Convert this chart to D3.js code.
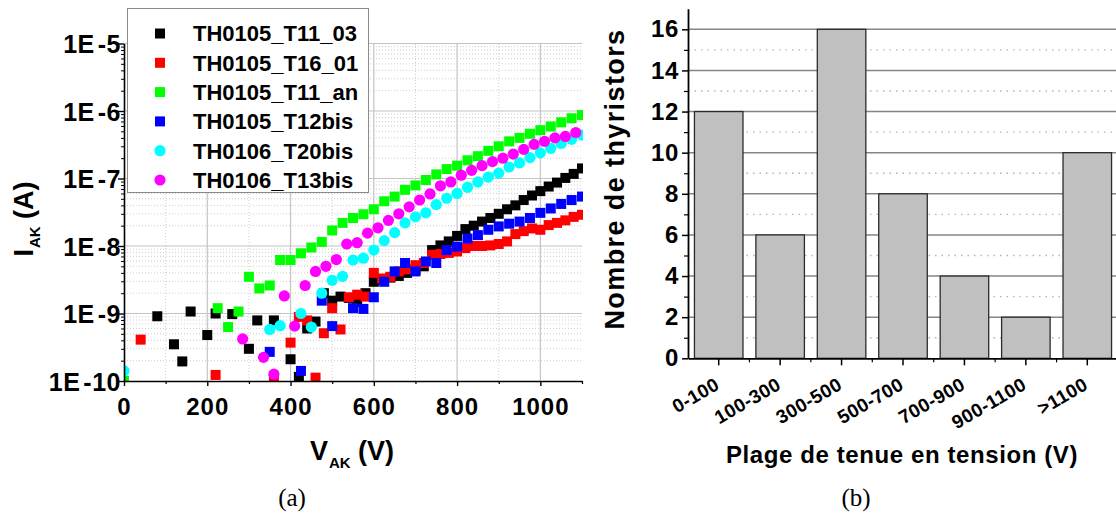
<!DOCTYPE html>
<html><head><meta charset="utf-8">
<script src="https://cdn.jsdelivr.net/npm/d3@7"></script>
<style>
html,body{margin:0;padding:0;background:#fff;}
svg{display:block;font-family:"Liberation Sans",Arial,sans-serif;}
</style></head>
<body>
<svg id="fig" width="1116" height="516"></svg>
<script>
// ---------- DATA (panel a) ----------
const seriesNames = ["TH0105_T11_03","TH0105_T16_01","TH0105_T11_an","TH0105_T12bis","TH0106_T20bis","TH0106_T13bis"];
const seriesColors = ["#000000","#ff0000","#00ff00","#0000ff","#00ffff","#ff00ff"];
const seriesShapes = ["square","square","square","square","circle","circle"];

const vBlack = [80,120,140,160,200,220,260,300,320,360,400,420,440,460,480,500,520,540,560,580,600,620,640,660,680,700,720,740,760,780,800,820,840,860,880,900,920,940,960,980,1000,1020,1040,1060,1080,1100];
const iBlack = [9.1e-10,3.5e-10,1.95e-10,1.07e-9,4.8e-10,1.0e-9,9.8e-10,3.0e-10,7.9e-10,7.9e-10,2.1e-10,1.15e-10,6.0e-10,7.6e-10,2.0e-9,1.55e-9,1.78e-9,1.7e-9,1.48e-9,2.0e-9,2.95e-9,3.16e-9,3.4e-9,3.6e-9,4.0e-9,4.4e-9,5.0e-9,8.7e-9,1.02e-8,1.17e-8,1.41e-8,1.78e-8,2.0e-8,2.3e-8,2.6e-8,3.0e-8,3.5e-8,4.0e-8,4.8e-8,5.6e-8,6.5e-8,7.6e-8,8.7e-8,1.02e-7,1.17e-7,1.41e-7];

const vRed = [40,220,360,400,420,440,460,480,500,520,540,560,580,600,620,640,660,680,700,720,740,760,780,800,820,840,860,880,900,920,940,960,980,1000,1020,1040,1060,1080,1100];
const iRed = [4.1e-10,1.23e-10,1.07e-10,3.7e-10,8.9e-10,7.9e-10,1.12e-10,5.1e-10,1.2e-9,5.8e-10,1.74e-9,1.9e-9,1.78e-9,4.0e-9,3.3e-9,3.5e-9,4.2e-9,4.5e-9,5.2e-9,5.6e-9,7.4e-9,7.6e-9,7.9e-9,8.3e-9,9.3e-9,1.0e-8,1.0e-8,1.02e-8,1.07e-8,1.17e-8,1.5e-8,1.66e-8,1.82e-8,1.74e-8,2.04e-8,2.2e-8,2.4e-8,2.7e-8,2.9e-8];

const vGreen = [0,225,250,275,300,325,350,375,400,425,450,475,500,525,550,575,600,625,650,675,700,725,750,775,800,825,850,875,900,925,950,975,1000,1025,1050,1075,1100];
const iGreen = [1.0e-10,1.2e-9,6.3e-10,1.07e-9,3.5e-9,2.35e-9,2.6e-9,6.2e-9,6.2e-9,7.8e-9,9.5e-9,1.15e-8,1.7e-8,2.2e-8,2.6e-8,2.95e-8,3.5e-8,4.6e-8,5.4e-8,6.8e-8,7.9e-8,9.5e-8,1.15e-7,1.38e-7,1.55e-7,1.86e-7,2.14e-7,2.57e-7,3.0e-7,3.55e-7,4.0e-7,4.6e-7,5.2e-7,5.9e-7,6.8e-7,7.8e-7,8.7e-7];

const vBlue = [350,425,475,500,550,575,600,625,650,675,700,725,750,775,800,825,850,875,900,925,950,975,1000,1025,1050,1075,1100];
const iBlue = [2.7e-10,1.41e-10,1.55e-9,6.5e-10,1.2e-9,1.17e-9,1.74e-9,2.95e-9,4.2e-9,5.6e-9,4.2e-9,5.9e-9,5.6e-9,8.7e-9,9.8e-9,1.29e-8,1.45e-8,1.74e-8,1.95e-8,2.14e-8,2.3e-8,2.6e-8,3.1e-8,3.6e-8,4.2e-8,4.8e-8,5.4e-8];

const vCyan = [0,350,375,425,450,475,500,525,550,575,600,625,650,675,700,725,750,775,800,825,850,875,900,925,950,975,1000,1025,1050,1075,1100];
const iCyan = [1.41e-10,5.8e-10,6.6e-10,1.0e-9,6.3e-10,2.0e-9,3.1e-9,3.55e-9,6.2e-9,6.6e-9,8.7e-9,1.2e-8,1.58e-8,2.2e-8,2.7e-8,3.1e-8,4.1e-8,5.1e-8,6.0e-8,7.4e-8,8.9e-8,1.05e-7,1.2e-7,1.48e-7,1.7e-7,2.04e-7,2.4e-7,2.8e-7,3.3e-7,3.8e-7,4.4e-7];

const vMagenta = [285,335,360,385,410,435,460,485,510,535,560,585,610,635,660,685,710,735,760,785,810,835,860,885,910,935,960,985,1010,1035,1060,1085];
const iMagenta = [4.2e-10,2.24e-10,1.26e-10,1.82e-9,6.5e-10,2.6e-9,4.2e-9,5.0e-9,6.3e-9,1.07e-8,1.12e-8,1.55e-8,1.86e-8,2.4e-8,3.0e-8,3.8e-8,4.8e-8,5.9e-8,7.8e-8,8.9e-8,1.12e-7,1.32e-7,1.55e-7,1.78e-7,2.0e-7,2.3e-7,2.7e-7,3.2e-7,3.55e-7,4.0e-7,4.2e-7,4.8e-7];

const seriesV = [vBlack,vRed,vGreen,vBlue,vCyan,vMagenta];
const seriesI = [iBlack,iRed,iGreen,iBlue,iCyan,iMagenta];

const xTicksA = [0,200,400,600,800,1000];
const xMinorA = [100,300,500,700,900,1100];
const yTicksA = [1e-10,1e-9,1e-8,1e-7,1e-6,1e-5];
const yTickLabelsA = ["1E-10","1E-9","1E-8","1E-7","1E-6","1E-5"];

// ---------- DATA (panel b) ----------
const categories = ["0-100","100-300","300-500","500-700","700-900","900-1100",">1100"];
const counts = [12,6,16,8,4,2,10];
const yTicksB = [0,2,4,6,8,10,12,14,16];
const yMinorB = [1,3,5,7,9,11,13,15];

// ---------- DRAW ----------
const FONT = "Liberation Sans, Arial, sans-serif";
const svg = d3.select("#fig");
svg.append("rect").attr("width",1116).attr("height",516).attr("fill","#fff");

// ===== Panel (a) =====
const xA = d3.scaleLinear().domain([0,1100]).range([124,582]);
const yA = d3.scaleLog().domain([1e-10,1e-5]).range([381,43.5]);
const gA = svg.append("g");

const yMinorA = [];
for (let e=-10;e<-5;e++) for (let k=2;k<=9;k++) yMinorA.push(k*Math.pow(10,e));

const grid = gA.append("g");
grid.selectAll(".hmin").data(yMinorA).join("line")
  .attr("x1",xA(0)).attr("x2",xA(1100)).attr("y1",d=>yA(d)).attr("y2",d=>yA(d))
  .attr("stroke","#cfcfcf").attr("stroke-width",1).attr("stroke-dasharray","1,2");
grid.selectAll(".vmin").data(xMinorA.filter(d=>d<1100)).join("line")
  .attr("x1",d=>xA(d)).attr("x2",d=>xA(d)).attr("y1",yA(1e-10)).attr("y2",yA(1e-5))
  .attr("stroke","#cfcfcf").attr("stroke-width",1).attr("stroke-dasharray","1,2");
grid.selectAll(".hmaj").data(yTicksA.slice(1)).join("line")
  .attr("x1",xA(0)).attr("x2",xA(1100)).attr("y1",d=>yA(d)).attr("y2",d=>yA(d))
  .attr("stroke","#c4c4c4").attr("stroke-width",1.2);
grid.selectAll(".vmaj").data(xTicksA.slice(1)).join("line")
  .attr("x1",d=>xA(d)).attr("x2",d=>xA(d)).attr("y1",yA(1e-10)).attr("y2",yA(1e-5))
  .attr("stroke","#c4c4c4").attr("stroke-width",1.2);

svg.append("clipPath").attr("id","clipA").append("rect")
  .attr("x",xA(0)).attr("y",yA(1e-5)-6).attr("width",xA(1100)-xA(0)+1).attr("height",yA(1e-10)-yA(1e-5)+6);

const pts = gA.append("g").attr("clip-path","url(#clipA)");
seriesNames.forEach((name,si)=>{
  const data = seriesV[si].map((v,i)=>({v, c: seriesI[si][i]}));
  const g = pts.append("g");
  if (seriesShapes[si]==="square") {
    g.selectAll("rect").data(data).join("rect")
      .attr("x",d=>xA(d.v)-5).attr("y",d=>yA(d.c)-5).attr("width",10).attr("height",10)
      .attr("fill",seriesColors[si]);
  } else {
    g.selectAll("circle").data(data).join("circle")
      .attr("cx",d=>xA(d.v)).attr("cy",d=>yA(d.c)).attr("r",5.6)
      .attr("fill",seriesColors[si]);
  }
});

const axA = gA.append("g").attr("transform",`translate(0,${yA(1e-10)})`)
  .call(d3.axisBottom(xA).tickValues(xTicksA).tickSize(5).tickSizeOuter(0).tickFormat(d3.format("d")));
axA.select(".domain").attr("stroke-width",1.6);
axA.selectAll(".tick line").attr("stroke-width",1.4);
axA.selectAll("text").attr("dy",null).attr("y",34).attr("font-size",24).attr("font-weight","bold")
  .attr("letter-spacing",1).attr("fill","#000").attr("font-family",FONT);
const axAmin = gA.append("g").attr("transform",`translate(0,${yA(1e-10)})`)
  .call(d3.axisBottom(xA).tickValues(xMinorA).tickSize(3).tickSizeOuter(0).tickFormat(""));
axAmin.select(".domain").remove();
axAmin.selectAll(".tick line").attr("stroke-width",1.2);

const ayA = gA.append("g").attr("transform",`translate(${xA(0)},0)`)
  .call(d3.axisLeft(yA).tickValues(yTicksA).tickSize(6).tickSizeOuter(0).tickFormat(""));
ayA.select(".domain").attr("stroke-width",1.6);
ayA.selectAll(".tick line").attr("stroke-width",1.4);
ayA.selectAll(".tick").each(function(d,i){
  const lab = yTickLabelsA[i];
  const t = d3.select(this).append("text").attr("x",-3).attr("dy","0.36em")
    .attr("text-anchor","end").attr("font-size",25).attr("font-weight","bold").attr("fill","#000")
    .attr("font-family",FONT).attr("letter-spacing",0.5);
  t.append("tspan").text(lab.slice(0,2));
  t.append("tspan").attr("dx",3).text(lab.slice(2));
});
const ayAmin = gA.append("g").attr("transform",`translate(${xA(0)},0)`)
  .call(d3.axisLeft(yA).tickValues(yMinorA).tickSize(3).tickSizeOuter(0).tickFormat(""));
ayAmin.select(".domain").remove();
ayAmin.selectAll(".tick line").attr("stroke-width",1);

const xt = gA.append("text").attr("x",352).attr("y",460).attr("text-anchor","middle")
  .attr("font-size",27).attr("font-weight","bold");
xt.append("tspan").text("V");
xt.append("tspan").attr("font-size",15).attr("dy",8).attr("dx",1).text("AK");
xt.append("tspan").attr("dy",-8).text(" (V)");

const yt = gA.append("text").attr("transform","translate(33,219) rotate(-90)").attr("text-anchor","middle")
  .attr("font-size",27).attr("font-weight","bold");
yt.append("tspan").text("I");
yt.append("tspan").attr("font-size",15).attr("dy",7).attr("dx",1).text("AK");
yt.append("tspan").attr("dy",-7).text(" (A)");

const lg = gA.append("g");
lg.append("rect").attr("x",127.5).attr("y",8.5).attr("width",241).attr("height",184)
  .attr("fill","#fff").attr("stroke","#8a8a8a").attr("stroke-width",1);
seriesNames.forEach((name,i)=>{
  const cy = 33.5 + i*29.3;
  if (seriesShapes[i]==="square") {
    lg.append("rect").attr("x",155).attr("y",cy-5).attr("width",10).attr("height",10).attr("fill",seriesColors[i]);
  } else {
    lg.append("circle").attr("cx",160).attr("cy",cy).attr("r",5.6).attr("fill",seriesColors[i]);
  }
  lg.append("text").attr("x",193).attr("y",cy).attr("dy","0.36em")
    .attr("font-size",22).attr("font-weight","bold").text(name);
});

svg.append("text").attr("x",292).attr("y",506).attr("text-anchor","middle")
  .attr("font-family","Liberation Serif, Times New Roman, serif").attr("font-size",25).text("(a)");

// ===== Panel (b) =====
const xB = d3.scaleBand().domain(categories).range([688,1118]).paddingInner(0.21).paddingOuter(0.105);
const yB = d3.scaleLinear().domain([0,17]).range([358.3,8.75]);
const gB = svg.append("g");

gB.selectAll(".bmin").data(yMinorB).join("line")
  .attr("x1",688).attr("x2",1116).attr("y1",d=>yB(d)).attr("y2",d=>yB(d))
  .attr("stroke","#b4b4b4").attr("stroke-width",1.4).attr("stroke-dasharray","1.5,5");
gB.selectAll(".bmaj").data(yTicksB.slice(1)).join("line")
  .attr("x1",688).attr("x2",1116).attr("y1",d=>yB(d)).attr("y2",d=>yB(d))
  .attr("stroke","#858585").attr("stroke-width",1.6);

gB.selectAll(".bar").data(categories).join("rect")
  .attr("x",d=>xB(d)).attr("width",xB.bandwidth())
  .attr("y",(d,i)=>yB(counts[i])).attr("height",(d,i)=>yB(0)-yB(counts[i]))
  .attr("fill","#c0c0c0").attr("stroke","#2b2b2b").attr("stroke-width",1.3);

const ayB = gB.append("g").attr("transform","translate(688,0)")
  .call(d3.axisLeft(yB).tickValues(yTicksB).tickSize(6).tickSizeOuter(0).tickPadding(3));
ayB.select(".domain").attr("stroke-width",1.8);
ayB.selectAll(".tick line").attr("stroke-width",1.5);
ayB.selectAll("text").attr("font-size",24).attr("font-weight","bold").attr("fill","#000")
  .attr("letter-spacing",0.6).attr("font-family",FONT);
const ayBmin = gB.append("g").attr("transform","translate(688,0)")
  .call(d3.axisLeft(yB).tickValues(yMinorB).tickSize(4).tickSizeOuter(0).tickFormat(""));
ayBmin.select(".domain").remove();
ayBmin.selectAll(".tick line").attr("stroke-width",1.2);

const axB = gB.append("g").attr("transform",`translate(0,${yB(0)})`)
  .call(d3.axisBottom(xB).tickSize(7).tickSizeOuter(0));
axB.select(".domain").attr("stroke-width",1.8);
axB.selectAll(".tick line").attr("stroke-width",1.5);
axB.selectAll("text").attr("y",null).attr("dy",null)
  .attr("transform","translate(2,30) rotate(-30)").attr("text-anchor","end")
  .attr("font-size",19).attr("font-weight","bold").attr("fill","#000").attr("letter-spacing",0.4)
  .attr("font-family",FONT);
const bounds = d3.range(1,categories.length).map(i=>xB.range()[0]+i*xB.step());
gB.selectAll(".btick").data(bounds).join("line")
  .attr("x1",d=>d).attr("x2",d=>d).attr("y1",yB(0)).attr("y2",yB(0)+4)
  .attr("stroke","#000").attr("stroke-width",1.2);

gB.append("text").attr("transform","translate(624,179) rotate(-90)").attr("text-anchor","middle")
  .attr("font-size",27).attr("font-weight","bold").attr("letter-spacing",1.4).text("Nombre de thyristors");
gB.append("text").attr("x",902).attr("y",463).attr("text-anchor","middle")
  .attr("font-size",24).attr("font-weight","bold").attr("letter-spacing",0.6).text("Plage de tenue en tension (V)");

svg.append("text").attr("x",856).attr("y",506).attr("text-anchor","middle")
  .attr("font-family","Liberation Serif, Times New Roman, serif").attr("font-size",25).text("(b)");
</script>
</body></html>
